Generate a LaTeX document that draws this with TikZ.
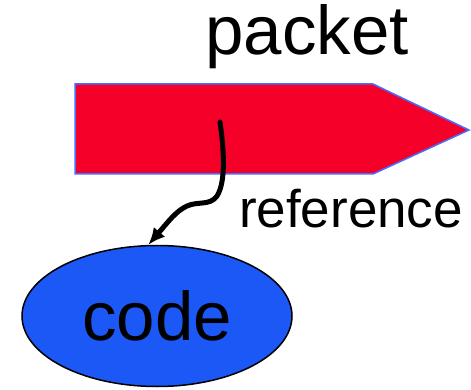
\documentclass[tikz,border=0pt]{standalone}
\usepackage{fontspec}
\setmainfont{Liberation Sans}
\usepackage{tikz}
\usetikzlibrary{arrows.meta,positioning,calc,shapes.geometric}

\definecolor{packetred}{RGB}{244,0,40}
\definecolor{packetline}{RGB}{70,110,255}
\definecolor{codeblue}{RGB}{28,88,246}

\begin{document}
\begin{tikzpicture}[x=1pt,y=-1pt]
        \tikzstyle{every node}=[inner sep=0pt]
        \tikzstyle{bigtext}=[font=\fontsize{69}{69}\selectfont,anchor=base]
        \tikzstyle{smalltext}=[font=\fontsize{53}{53}\selectfont,anchor=base]
        \useasboundingbox (0,0) rectangle (471,390);

        %%% Packet
        \fill[packetred,draw=packetline,line width=1.5pt]
            (75,84) -- (373,84) -- (469,130) -- (373,174) -- (75,174) -- cycle;
        \node[bigtext] (packet) at (307,55) {packet};
        \coordinate (ref) at (220,122);

        %%% Code
        \node[ellipse,draw=black,line width=1.5pt,fill=codeblue,minimum width=270pt,minimum height=141pt,font=\fontsize{69}{69}\selectfont] (code) at (157,316) {code};
        \node[smalltext] (reference) at (351,227) {reference};

        \draw[-{Latex[length=17pt,width=15pt]},line width=5pt,line cap=round]
            (ref) .. controls (224,150) and (226,182) .. (217,196)
            .. controls (210,206) and (198,201) .. (187,206)
            .. controls (176,211) and (168,222) .. (code.97);
    \end{tikzpicture}
\end{document}
